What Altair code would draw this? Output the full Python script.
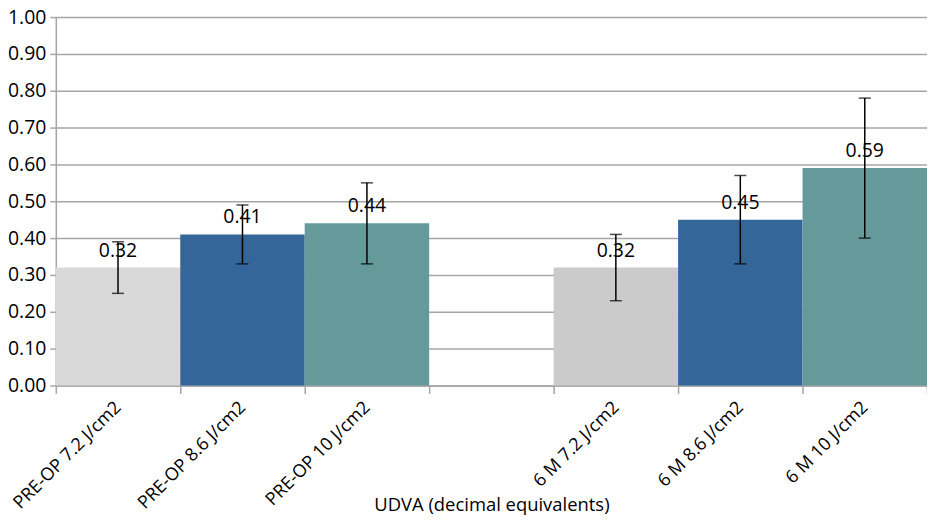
import altair as alt
import pandas as pd

categories = ["PRE-OP 7.2 J/cm2", "PRE-OP 8.6 J/cm2", "PRE-OP 10 J/cm2", " ",
              "6 M 7.2 J/cm2", "6 M 8.6 J/cm2", "6 M 10 J/cm2"]
bar_cats = ["PRE-OP 7.2 J/cm2", "PRE-OP 8.6 J/cm2", "PRE-OP 10 J/cm2",
            "6 M 7.2 J/cm2", "6 M 8.6 J/cm2", "6 M 10 J/cm2"]
values = [0.32, 0.41, 0.44, 0.32, 0.45, 0.59]
err_low = [0.25, 0.33, 0.33, 0.23, 0.33, 0.40]
err_high = [0.39, 0.49, 0.55, 0.41, 0.57, 0.78]
y_ticks = [0.0, 0.1, 0.2, 0.3, 0.4, 0.5, 0.6, 0.7, 0.8, 0.9, 1.0]
colors = ["#d9d9d9", "#346699", "#669a9a", "#cbcbcb", "#346699", "#669a9a"]

df = pd.DataFrame({"cat": bar_cats, "value": values, "lo": err_low, "hi": err_high})

FONT = "Open Sans"
GRID = "#a6a6a6"
x_scale = alt.Scale(domain=categories, paddingInner=0, paddingOuter=0)
y_scale = alt.Scale(domain=[0, 1])

x_axis = alt.Axis(tickBand="extent", labelAngle=-45, labelAlign="right",
                  labelBaseline="middle", tickSize=8, labelPadding=11,
                  domainColor=GRID, domainWidth=1.5, tickColor=GRID, tickWidth=1.5,
                  grid=False, labelFontSize=18, titleFontSize=18.5,
                  titleFontWeight="normal", labelFont=FONT, titleFont=FONT,
                  labelColor="black", titleColor="black", titleY=120,
                  titleBaseline="middle", labelOverlap=False)
y_axis = alt.Axis(values=y_ticks, format=".2f", labelOverlap=False,
                  grid=True, gridColor=GRID, gridWidth=1.5,
                  domainColor=GRID, domainWidth=1.5,
                  tickColor=GRID, tickWidth=1.5, tickSize=6, labelPadding=4,
                  labelFontSize=19.5, labelFont=FONT, labelColor="black")

X = alt.X("cat:N", sort=categories, scale=x_scale, title="UDVA (decimal equivalents)", axis=x_axis)


def Y(field):
    return alt.Y(field, scale=y_scale, title=None, axis=y_axis)


base = alt.Chart(df)

bars = base.mark_bar().encode(
    x=X, y=Y("value:Q"),
    color=alt.Color("cat:N", scale=alt.Scale(domain=bar_cats, range=colors), legend=None),
)
rules = base.mark_rule(color="black", strokeWidth=1.5).encode(x=X, y=Y("lo:Q"), y2="hi:Q")
ticks_lo = base.mark_tick(color="black", size=12, thickness=1.5).encode(x=X, y=Y("lo:Q"))
ticks_hi = base.mark_tick(color="black", size=12, thickness=1.5).encode(x=X, y=Y("hi:Q"))
labels = base.mark_text(dy=-11, baseline="alphabetic", fontSize=19.5, font=FONT, color="black").encode(
    x=X, y=Y("value:Q"), text=alt.Text("value:Q", format=".2f"))

chart = alt.layer(bars, labels, rules, ticks_lo, ticks_hi).properties(
    width=875, height=370,
    autosize=alt.AutoSizeParams(type="none"),
    padding={"left": 48, "top": 8, "right": 0, "bottom": 130},
).configure_view(stroke=None)

chart.save("out.html", embed_options={"renderer": "svg", "actions": False})
